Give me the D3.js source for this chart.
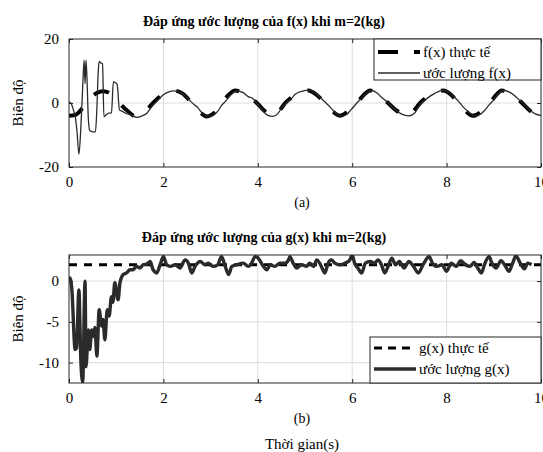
<!DOCTYPE html>
<html>
<head>
<meta charset="utf-8">
<script src="https://cdn.jsdelivr.net/npm/d3@7"></script>
<style>
body{margin:0;background:#fff;}
text{font-family:"Liberation Serif","Times New Roman",serif;fill:#000;}
</style>
</head>
<body>
<script>
// time axis ticks
const xTicks = [0, 2, 4, 6, 8, 10];

// f(x) actual
const fRealT = [0,0.15,0.3,0.45,0.6,0.72,0.85,1.0,1.12,1.25,1.4,1.55,1.78,2.0,2.2,2.4,2.6,2.75,2.92,3.1,3.24,3.38,3.52,3.75,3.98,4.15,4.3,4.45,4.58,4.85,5.07,5.25,5.42,5.6,5.74,5.92,6.1,6.25,6.38,6.58,6.76,6.95,7.16,7.3,7.44,7.7,7.93,8.1,8.25,8.4,8.56,8.75,8.92,9.05,9.17,9.4,9.6,9.8,10];
const fRealV = [-4,-3.6,-1.3,1.5,3.2,3.7,3.2,1.2,-0.8,-2.6,-4.1,-3.6,0,2.8,3.9,3,0,-2.5,-4.2,-2.8,0,2.5,3.9,2.5,0,-2.6,-4,-2.5,0,2.8,3.9,2.5,0,-2.8,-4,-2.5,0,2.6,3.9,2.3,0,-2.5,-3.9,-2.5,0,2.8,3.9,2.5,0,-2.5,-4,-2.5,0,2.5,3.9,2.5,0,-2.8,-3.8];

// f(x) estimate
const fEstT = [0,0.04,0.1,0.13,0.17,0.21,0.25,0.29,0.32,0.34,0.36,0.38,0.41,0.44,0.5,0.56,0.59,0.62,0.64,0.67,0.71,0.74,0.78,0.84,0.9,0.94,0.98,1.02,1.07,1.13,1.2,1.3,1.44,1.55,1.65,1.72,1.8,1.9,2.0,2.1,2.22,2.35,2.45,2.55,2.65,2.72,2.8,2.92,3.05,3.15,3.24,3.32,3.42,3.55,3.68,3.8,3.9,3.98,4.1,4.2,4.32,4.42,4.5,4.6,4.7,4.8,4.95,5.08,5.2,5.3,5.42,5.5,5.6,5.75,5.88,5.98,6.1,6.2,6.3,6.4,6.52,6.62,6.72,6.8,6.92,7.05,7.2,7.32,7.42,7.5,7.6,7.75,7.93,8.05,8.15,8.25,8.35,8.45,8.58,8.7,8.8,8.9,9.0,9.08,9.2,9.32,9.45,9.55,9.65,9.78,9.88,10];
const fEstV = [0.3,0,-2.5,-4,-9,-16,-8,5,13.4,6,13.4,8,-5,-8.6,-9,-9,-2,10,13,12.6,12.2,-4.3,-3.8,-3.2,-3.1,6.6,6.4,5.8,-2.2,-2.6,-3.2,-3.6,-4.5,-4.0,-3.2,-1.8,-0.3,1.2,2.6,3.4,3.8,3.4,2.4,0.9,-0.5,-1.3,-2.8,-4.2,-3.8,-2.6,-0.6,0.6,2.4,3.8,3.3,2.0,1.3,0,-2.3,-3.8,-4.2,-3.4,-1.6,0,1.2,2.8,3.7,4.0,3.3,2.0,0.4,-0.8,-2.4,-4.1,-3.6,-2.0,0,1.6,3.0,3.9,3.2,1.8,0.6,-0.6,-2.2,-3.5,-4.0,-3.2,-0.8,0.4,1.6,3.0,4.0,3.3,2.0,0.6,-1.2,-2.6,-4.0,-3.6,-2.4,-0.6,1.0,2.6,3.9,3.5,2.2,0.8,-0.6,-2.4,-3.4,-3.9];

// g(x) actual
const gRealT = [0, 10];
const gRealV = [2, 2];

// g(x) estimate
const gEstT = [0,0.02,0.06,0.13,0.16,0.21,0.25,0.29,0.34,0.36,0.41,0.44,0.48,0.51,0.55,0.59,0.64,0.69,0.72,0.76,0.81,0.85,0.9,0.93,0.97,1.04,1.08,1.15,1.22,1.29,1.36,1.43,1.5,1.57,1.65,1.72,1.78,1.86,1.93,2.0,2.07,2.15,2.25,2.35,2.46,2.53,2.6,2.67,2.78,2.88,2.95,3.05,3.15,3.23,3.3,3.38,3.45,3.55,3.69,3.8,3.87,3.94,4.01,4.12,4.19,4.27,4.36,4.47,4.58,4.65,4.68,4.75,4.82,4.93,5.03,5.1,5.18,5.25,5.33,5.42,5.49,5.56,5.63,5.74,5.85,5.95,6.0,6.05,6.12,6.2,6.28,6.38,6.47,6.55,6.62,6.69,6.76,6.84,6.92,7.0,7.1,7.2,7.3,7.4,7.5,7.63,7.7,7.8,7.9,8.0,8.1,8.2,8.3,8.4,8.5,8.58,8.66,8.74,8.8,8.9,8.96,9.05,9.15,9.25,9.32,9.4,9.47,9.56,9.65,9.72,9.8,9.9,10];
const gEstV = [0,0.4,-1,-8.4,-8.2,-1.1,-9.6,-12.4,0,-10.5,-6,-8.4,-6,-6.8,-5.7,-9.2,-3.5,-5.5,-4.7,-7.2,-3.5,-4.3,-1.9,-2.6,-0.2,-2.3,-0.2,0.8,1.0,1.4,1.4,1.8,1.6,2.0,2.1,2.4,1.4,1.0,2.0,3.0,2.0,1.8,2.0,1.6,2.6,2.2,1.0,1.8,2.4,2.0,2.2,1.8,2.0,3.0,2.0,0.8,1.8,2.0,2.2,1.8,2.2,3.0,2.8,1.8,1.4,2.0,1.8,2.2,2.2,2.6,3.0,2.2,1.6,2.0,1.8,2.2,1.8,2.6,2.0,1.0,2.2,2.6,2.2,2.0,2.2,2.6,3.2,2.2,1.6,1.0,2.2,2.4,2.2,2.6,2.0,1.0,1.8,2.8,2.0,2.4,1.6,2.4,1.8,1.0,2.0,3.0,2.2,1.8,2.0,1.2,2.2,1.8,2.5,2.0,1.8,2.3,1.6,1.0,2.0,3.0,2.2,1.6,2.5,1.8,1.2,2.2,3.1,2.2,1.5,2.2,2.0];

const W = 543, H = 452;
const svg = d3.select("body").append("svg").attr("width", W).attr("height", H);

const x = d3.scaleLinear().domain([0, 10]).range([69, 541]);

function panel(cfg) {
  const y = d3.scaleLinear().domain(cfg.yDomain).range([cfg.bottom, cfg.top]);
  const g = svg.append("g");
  const clipId = "clip" + cfg.id;
  svg.append("clipPath").attr("id", clipId).append("rect")
    .attr("x", 69).attr("y", cfg.top).attr("width", 472).attr("height", cfg.bottom - cfg.top);

  // grid
  g.selectAll(".gx").data(xTicks.slice(1, -1)).join("line")
    .attr("x1", d => x(d)).attr("x2", d => x(d)).attr("y1", cfg.top).attr("y2", cfg.bottom)
    .attr("stroke", "#dcdcdc").attr("stroke-width", 1);
  g.selectAll(".gy").data(cfg.yGrid).join("line")
    .attr("x1", 69).attr("x2", 541).attr("y1", d => y(d)).attr("y2", d => y(d))
    .attr("stroke", "#dcdcdc").attr("stroke-width", 1);

  const line = d3.line().x(d => x(d[0])).y(d => y(d[1])).curve(d3.curveMonotoneX);

  // actual
  g.append("path").attr("clip-path", `url(#${clipId})`)
    .attr("d", line(d3.zip(cfg.realT, cfg.realV)))
    .attr("fill", "none").attr("stroke", "#000")
    .attr("stroke-width", cfg.realW).attr("stroke-dasharray", cfg.dash);
  // estimate
  g.append("path").attr("clip-path", `url(#${clipId})`)
    .attr("d", line(d3.zip(cfg.estT, cfg.estV)))
    .attr("fill", "none").attr("stroke", "#2b2b2b")
    .attr("stroke-width", cfg.estW).attr("stroke-linejoin", "round");

  // axes (inward ticks)
  const fmt = d => String(d);
  const ax = g.append("g").attr("transform", `translate(0,${cfg.bottom})`)
    .call(d3.axisBottom(x).tickValues(xTicks).tickSize(-4).tickPadding(9).tickFormat(fmt));
  const axT = g.append("g").attr("transform", `translate(0,${cfg.top})`)
    .call(d3.axisTop(x).tickValues(xTicks).tickSize(-4).tickFormat(""));
  const ay = g.append("g").attr("transform", `translate(69,0)`)
    .call(d3.axisLeft(y).tickValues(cfg.yTicks).tickSize(-4).tickPadding(10).tickFormat(fmt));
  const ayR = g.append("g").attr("transform", `translate(541,0)`)
    .call(d3.axisRight(y).tickValues(cfg.yTicks).tickSize(-4).tickFormat(""));
  [ax, axT, ay, ayR].forEach(a => {
    a.select(".domain").remove();
    a.selectAll("line").attr("stroke", "#262626");
    a.selectAll("text").style("font-family", "Liberation Serif, serif").style("font-size", "15px").attr("fill", "#000");
  });
  g.append("rect").attr("x", 69).attr("y", cfg.top).attr("width", 472).attr("height", cfg.bottom - cfg.top)
    .attr("fill", "none").attr("stroke", "#262626").attr("stroke-width", 1);

  // title
  svg.append("text").attr("x", 264).attr("y", cfg.top - 13).attr("text-anchor", "middle")
    .style("font-size", "14px").style("font-weight", "bold").text(cfg.title);
  // y label
  svg.append("text").attr("transform", `translate(23,${(cfg.top + cfg.bottom) / 2}) rotate(-90)`)
    .attr("text-anchor", "middle").style("font-size", "15px").text("Biên độ");
  // sub caption
  svg.append("text").attr("x", 302).attr("y", cfg.bottom + 40).attr("text-anchor", "middle")
    .style("font-size", "14px").text(cfg.caption);

  // legend
  const L = cfg.legend;
  const lg = svg.append("g");
  lg.append("rect").attr("x", L.x).attr("y", L.y).attr("width", 541 - L.x).attr("height", L.h)
    .attr("fill", "#fff").attr("stroke", "#262626").attr("stroke-width", 1);
  lg.append("line").attr("x1", L.x + 4).attr("x2", L.x + 46).attr("y1", L.y1).attr("y2", L.y1)
    .attr("stroke", "#000").attr("stroke-width", cfg.realW).attr("stroke-dasharray", cfg.legDash);
  lg.append("line").attr("x1", L.x + 4).attr("x2", L.x + 46).attr("y1", L.y2).attr("y2", L.y2)
    .attr("stroke", "#2b2b2b").attr("stroke-width", cfg.estW);
  lg.append("text").attr("x", L.x + 49).attr("y", L.y1 + 5).style("font-size", "15px").text(L.t1);
  lg.append("text").attr("x", L.x + 49).attr("y", L.y2 + 5).style("font-size", "15px").text(L.t2);
}

panel({
  id: "a", top: 39, bottom: 167, yDomain: [-20, 20], yTicks: [-20, 0, 20], yGrid: [0],
  realT: fRealT, realV: fRealV, estT: fEstT, estV: fEstV,
  realW: 4, estW: 1.3, dash: "16,18", legDash: "20,16",
  title: "Đáp ứng ước lượng của f(x) khi m=2(kg)", caption: "(a)",
  legend: {x: 374, y: 39, h: 41, y1: 52, y2: 73, t1: "f(x) thực tế", t2: "ước lượng f(x)"}
});

panel({
  id: "b", top: 255, bottom: 383, yDomain: [-12.5, 3.2], yTicks: [-10, -5, 0], yGrid: [-10, -5, 0],
  realT: gRealT, realV: gRealV, estT: gEstT, estV: gEstV,
  realW: 3, estW: 3.4, dash: "8,7", legDash: "8,6",
  title: "Đáp ứng ước lượng của g(x) khi m=2(kg)", caption: "(b)",
  legend: {x: 370, y: 337, h: 46, y1: 348, y2: 369, t1: "g(x) thực tế", t2: "ước lượng g(x)"}
});

svg.append("text").attr("x", 302).attr("y", 449).attr("text-anchor", "middle")
  .style("font-size", "15px").text("Thời gian(s)");
</script>
</body>
</html>
